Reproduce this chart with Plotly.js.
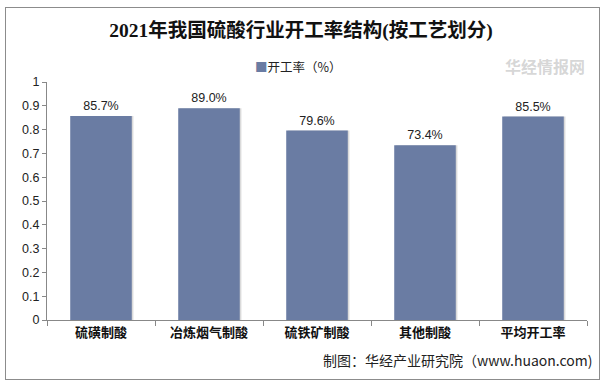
<!DOCTYPE html>
<html><head><meta charset="utf-8">
<script src="https://cdn.plot.ly/plotly-3.0.1.min.js"></script>
<style>
html,body{margin:0;padding:0;background:#fff;}
#wrap{position:relative;width:602px;height:382px;}
#frame{position:absolute;left:5px;top:7px;width:593px;height:371px;border:1px solid #8c8c8c;pointer-events:none;z-index:5;}
#chart{position:absolute;left:0;top:0;width:602px;height:382px;}
</style></head>
<body><div id="wrap"><div id="chart"></div><div id="frame"></div></div>
<script>
const categories = ["硫磺制酸", "冶炼烟气制酸", "硫铁矿制酸", "其他制酸", "平均开工率"];
const rates = [0.857, 0.890, 0.796, 0.734, 0.855];
const seriesName = "开工率（%）";
const yTicks = [0, 0.1, 0.2, 0.3, 0.4, 0.5, 0.6, 0.7, 0.8, 0.9, 1];
const yTickText = ["0", "0.1", "0.2", "0.3", "0.4", "0.5", "0.6", "0.7", "0.8", "0.9", "1"];

const barColor = "#6a7ca3";
const labels = rates.map(v => (v * 100).toFixed(1) + "%");

const shadow = {
  type: "bar", x: categories, y: rates, width: 0.57, offset: -0.27,
  marker: {color: "rgba(150,150,150,0.35)", line: {width: 0}},
  showlegend: false, hoverinfo: "skip"
};
const bars = {
  type: "bar", x: categories, y: rates, name: seriesName, width: 0.57, offset: -0.285,
  marker: {color: barColor, line: {width: 0}},
  text: labels, textposition: "outside", cliponaxis: false, showlegend: false,
  textfont: {family: "Liberation Sans, Arial, sans-serif", size: 12.5, color: "#222"}
};

const layout = {
  width: 602, height: 382,
  margin: {l: 47, r: 15, t: 82, b: 62},
  paper_bgcolor: "#fff", plot_bgcolor: "#fff",
  barmode: "overlay",
  title: {text: "<b>2021年我国硫酸行业开工率结构(按工艺划分)</b>", x: 0.5, xanchor: "center", y: 0.922, yanchor: "middle",
    font: {family: "Liberation Serif, Noto Sans CJK SC, serif", size: 19.5, color: "#111"}},
  showlegend: false,
  xaxis: {type: "category", showline: true, linecolor: "#888", linewidth: 1,
    ticks: "outside", tickson: "boundaries", ticklen: 5, tickcolor: "#888",
    tickfont: {family: "Noto Sans CJK SC, sans-serif", size: 13, color: "#111", weight: "bold"},
    showgrid: false, fixedrange: true},
  yaxis: {range: [0, 1], tickvals: yTicks, ticktext: yTickText, showline: true, linecolor: "#888", linewidth: 1,
    ticks: "outside", ticklen: 4, tickcolor: "#888", showgrid: false, zeroline: false,
    tickfont: {family: "Liberation Sans, Arial, sans-serif", size: 12.5, color: "#222"}},
  annotations: [
    {text: "<span style='color:" + barColor + "'>■</span>" + seriesName, xref: "paper", yref: "paper",
      x: 0.465, xanchor: "center", y: 1.067, yanchor: "middle",
      showarrow: false, font: {family: "Noto Sans CJK SC, sans-serif", size: 12.5, color: "#222"}},
    {text: "制图：华经产业研究院（www.huaon.com)", xref: "paper", yref: "paper", x: 1.015, xanchor: "right", y: -0.168, yanchor: "middle",
      showarrow: false, font: {family: "Noto Sans CJK SC, sans-serif", size: 14, color: "#222"}},
    {text: "<b>华经情报网</b>", xref: "paper", yref: "paper", x: 1.0, xanchor: "right", y: 1.067, yanchor: "middle",
      showarrow: false, font: {family: "Noto Sans CJK SC, sans-serif", size: 16, color: "rgba(150,150,150,0.4)"}}
  ]
};
Plotly.newPlot("chart", [shadow, bars], layout, {displayModeBar: false, staticPlot: true});
</script></body></html>
